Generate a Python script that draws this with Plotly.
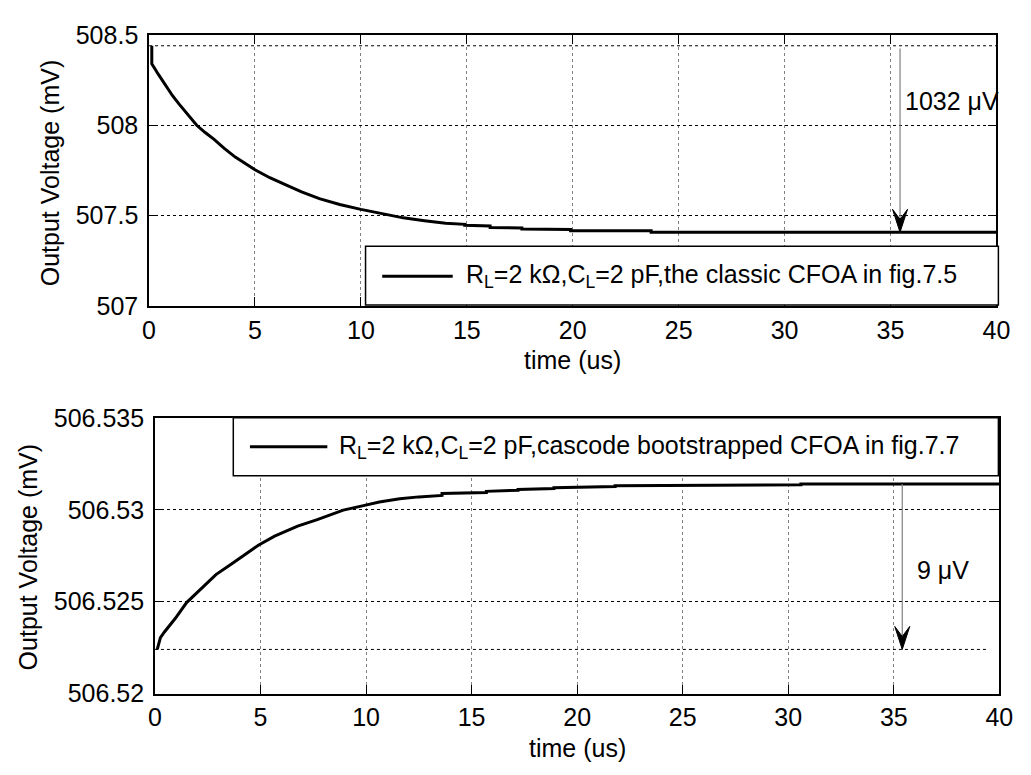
import plotly.graph_objects as go

W, H = 1031, 775
FONT = "Liberation Sans, Arial, Helvetica, sans-serif"
FS = 25

# ---- classic CFOA output (top panel), time in us, voltage in mV ----
t_classic = [0.13, 0.13, 0.45, 0.76, 1.10, 1.42, 1.85, 2.25, 2.65, 3.07, 3.55,
             4.07, 5.0, 5.7, 6.38, 7.2, 8.04, 9.0, 10.0, 11.0, 12.0, 13.0,
             14.0, 14.9, 14.9, 16.1, 16.1, 17.6, 17.6, 19.9, 19.9, 23.7, 23.7, 40.0]
v_classic = [508.44, 508.34, 508.28, 508.223, 508.165, 508.117, 508.055, 508.0,
             507.96, 507.922, 507.872, 507.824, 507.754, 507.71, 507.674, 507.632,
             507.594, 507.562, 507.535, 507.51, 507.488, 507.472, 507.458, 507.452,
             507.447, 507.443, 507.434, 507.432, 507.426, 507.424, 507.417, 507.416,
             507.408, 507.408]

# ---- cascode bootstrapped CFOA output (bottom panel) ----
t_cascode = [0.11, 0.26, 0.45, 0.96, 1.5, 2.12, 2.89, 3.66, 4.9, 5.67, 6.76, 7.69,
             8.92, 9.93, 10.63, 11.6, 12.5, 13.6, 13.6, 15.7, 15.7, 17.2, 17.2,
             18.9, 18.9, 21.8, 21.8, 30.6, 30.6, 40.0]
v_cascode = [506.5224, 506.52304, 506.52335, 506.52408, 506.52495, 506.52564,
             506.52647, 506.52707, 506.52807, 506.52856, 506.52911, 506.52946,
             506.52998, 506.53024, 506.53042, 506.5306, 506.5307, 506.53078,
             506.53088, 506.53094, 506.531, 506.53106, 506.5311, 506.53116,
             506.5312, 506.53126, 506.5313, 506.53136, 506.5314, 506.5314]

# ---- settling steps marked with arrows: (time, upper level, lower level) ----
step_classic = (35.45, 508.44, 507.408)
step_cascode = (35.4, 506.5314, 506.5224)
ref_classic = 508.44      # initial level reference line
ref_cascode = 506.5224

# ---- ticks and labels ----
x_ticks = [0, 5, 10, 15, 20, 25, 30, 35, 40]
y_ticks_top = [507, 507.5, 508, 508.5]
y_text_top = ["507", "507.5", "508", "508.5"]
y_ticks_bot = [506.52, 506.525, 506.53, 506.535]
y_text_bot = ["506.52", "506.525", "506.53", "506.535"]

legend_top = "R<sub>L</sub>=2 k\u03a9,C<sub>L</sub>=2 pF,the classic CFOA in fig.7.5"
legend_bot = "R<sub>L</sub>=2 k\u03a9,C<sub>L</sub>=2 pF,cascode bootstrapped CFOA in fig.7.7"
x_title = "time (us)"
y_title = "Output Voltage (mV)"


def px(x):
    return x / W


def py(y):
    return 1 - y / H


fig = go.Figure()
fig.add_trace(go.Scatter(x=t_classic, y=v_classic, mode="lines", xaxis="x", yaxis="y",
                         line=dict(color="black", width=3), showlegend=False))
fig.add_trace(go.Scatter(x=t_cascode, y=v_cascode, mode="lines", xaxis="x2", yaxis="y2",
                         line=dict(color="black", width=3), showlegend=False))

common_x = dict(range=[0, 40], tickvals=x_ticks, showline=True, linecolor="black",
                linewidth=1.5, mirror="ticks", ticks="inside", ticklen=9,
                tickcolor="black", showgrid=True, gridcolor="#808080",
                griddash="3px,3px", gridwidth=1, zeroline=False,
                tickfont=dict(family=FONT, size=FS, color="black"),
                ticklabelstandoff=1, fixedrange=True)
common_y = dict(showline=True, linecolor="black", linewidth=1.5, mirror="ticks",
                ticks="inside", ticklen=9, tickcolor="black", showgrid=True,
                gridcolor="black", griddash="3px,3px", gridwidth=1, zeroline=False,
                tickfont=dict(family=FONT, size=FS, color="black"),
                ticklabelstandoff=4, fixedrange=True)

fig.update_layout(
    width=W, height=H, margin=dict(l=0, r=0, t=0, b=0),
    paper_bgcolor="white", plot_bgcolor="white", showlegend=False,
    xaxis=dict(common_x, domain=[px(145), px(1010)], anchor="y"),
    yaxis=dict(common_y, domain=[py(303), py(21.7)], anchor="x", range=[507, 508.5],
               tickvals=y_ticks_top, ticktext=y_text_top),
    xaxis2=dict(common_x, domain=[px(151), px(1013)], anchor="y2"),
    yaxis2=dict(common_y, domain=[py(705), py(419)], anchor="x2",
                range=[506.52, 506.535], tickvals=y_ticks_bot, ticktext=y_text_bot),
)

shapes = []
annotations = []

# reference level lines
shapes.append(dict(type="line", xref="x", yref="y", x0=0, x1=40, y0=ref_classic,
                   y1=ref_classic, line=dict(color="black", width=1, dash="3px,3px"),
                   layer="below"))
shapes.append(dict(type="line", xref="x2", yref="y2", x0=0, x1=39.5, y0=ref_cascode,
                   y1=ref_cascode, line=dict(color="black", width=1, dash="3px,3px"),
                   layer="below"))

# arrows marking the settling difference
head = "M0,0 L-7.5,23 L0,13 L7.5,23 Z"
arrow_specs = ((step_classic, "x", "y", step_classic[1] - 0.015),
               (step_cascode, "x2", "y2", step_cascode[1]))
for (t, hi, lo), xr, yr, start in arrow_specs:
    shapes.append(dict(type="line", xref=xr, yref=yr, x0=t, x1=t, y0=start, y1=lo,
                       line=dict(color="#7f7f7f", width=1.2)))
    shapes.append(dict(type="path", xref=xr, yref=yr, xsizemode="pixel",
                       ysizemode="pixel", xanchor=t, yanchor=lo, path=head,
                       fillcolor="black", line=dict(color="black", width=1)))

delta_top = (step_classic[1] - step_classic[2]) * 1000
delta_bot = (step_cascode[1] - step_cascode[2]) * 1000
annotations.append(dict(xref="x", yref="y", x=35.6, y=508.136, xanchor="left",
                        yanchor="middle", showarrow=False,
                        text=f"{delta_top:.0f} \u03bcV",
                        font=dict(family=FONT, size=FS, color="black")))
annotations.append(dict(xref="x2", yref="y2", x=36.0, y=506.5267, xanchor="left",
                        yanchor="middle", showarrow=False,
                        text=f"{delta_bot:.0f} \u03bcV",
                        font=dict(family=FONT, size=FS, color="black")))

# legend boxes
for (x0, x1, y0, y1, lx0, lx1, ly, tx, label) in (
        (366, 1012, 241, 302, 383, 455, 272, 466, legend_top),
        (231, 1012, 419, 479, 248, 327, 449, 337, legend_bot)):
    shapes.append(dict(type="rect", xref="paper", yref="paper", x0=px(x0), x1=px(x1),
                       y0=py(y1), y1=py(y0), fillcolor="white",
                       line=dict(color="black", width=1.5)))
    shapes.append(dict(type="line", xref="paper", yref="paper", x0=px(lx0), x1=px(lx1),
                       y0=py(ly), y1=py(ly), line=dict(color="black", width=3)))
    annotations.append(dict(xref="paper", yref="paper", x=px(tx), y=py(ly),
                            xanchor="left", yanchor="middle", showarrow=False,
                            text=label, font=dict(family=FONT, size=FS, color="black")))

# axis titles
for (x, y) in ((577.5, 359), (582, 761)):
    annotations.append(dict(xref="paper", yref="paper", x=px(x), y=py(y),
                            xanchor="center", yanchor="middle", showarrow=False,
                            text=x_title, font=dict(family=FONT, size=FS, color="black")))
for (x, y) in ((43.6, 164.5), (21.7, 563.5)):
    annotations.append(dict(xref="paper", yref="paper", x=px(x), y=py(y),
                            xanchor="center", yanchor="middle", showarrow=False,
                            textangle=-90, text=y_title,
                            font=dict(family=FONT, size=FS, color="black")))

fig.update_layout(shapes=shapes, annotations=annotations)
fig.write_html("out.html")
